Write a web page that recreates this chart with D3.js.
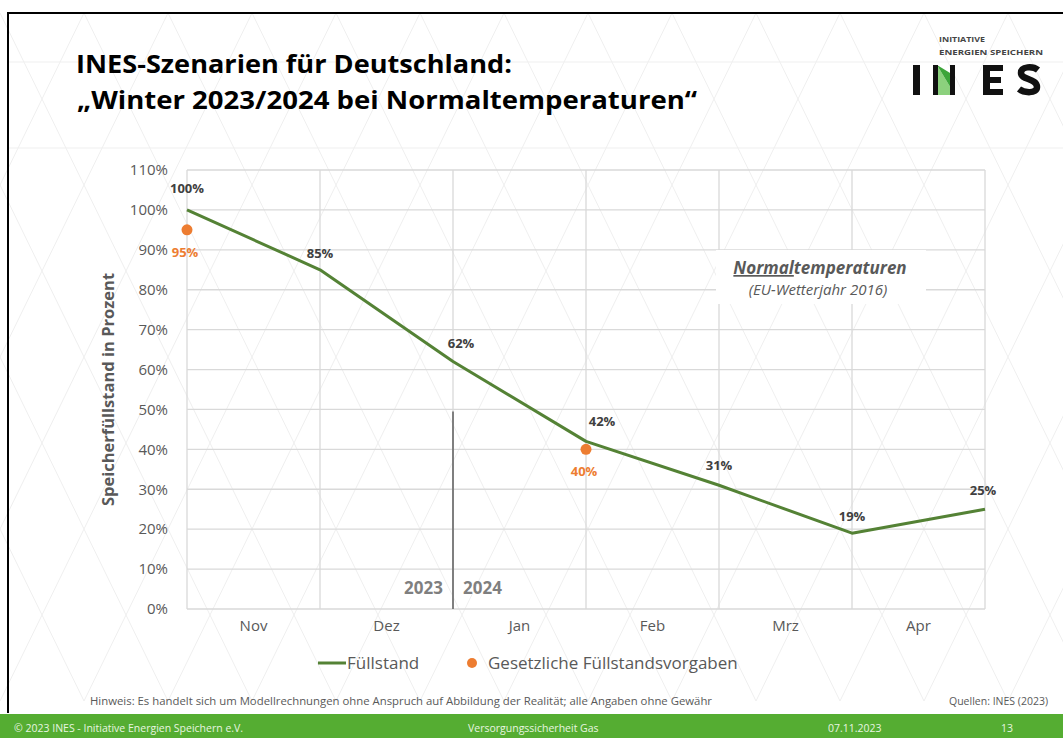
<!DOCTYPE html>
<html>
<head>
<meta charset="utf-8">
<script src="https://cdn.jsdelivr.net/npm/d3@7"></script>
<style>
  body { margin: 0; background: #fff; }
  svg { display: block; }
</style>
</head>
<body>
<script>
const W = 1063
const H = 738

const months = ["Nov", "Dez", "Jan", "Feb", "Mrz", "Apr"]
const fillPos = [0, 1, 2, 3, 4, 5, 6]          // month boundaries (1st of each month)
const fillValues = [100, 85, 62, 42, 31, 19, 25]
const targetPos = [0, 3]
const targetValues = [95, 40]
const yTicks = [0, 10, 20, 30, 40, 50, 60, 70, 80, 90, 100, 110]

const green = "#548235"
const orange = "#ed7d31"
const grey = "#595959"
const font = "'Open Sans', 'Liberation Sans', sans-serif"

const svg = d3.select("body").append("svg")
    .attr("width", W)
    .attr("height", H)
    .style("font-family", font)

// faint triangle pattern in the slide background
const bg = svg.append("g").attr("stroke", "#efefef").attr("stroke-width", 1)
const triW = 84, triH = 86
for (let k = -12; k < 24; k++) {
  const x0 = k * triW
  bg.append("line").attr("x1", x0).attr("y1", 13).attr("x2", x0 + 4 * triW).attr("y2", 13 + 8 * triH)
  bg.append("line").attr("x1", x0).attr("y1", 13).attr("x2", x0 - 4 * triW).attr("y2", 13 + 8 * triH)
}
;[62, 148].forEach(function (y) {
  bg.append("line").attr("x1", 8).attr("x2", W).attr("y1", y).attr("y2", y)
})

// slide frame
svg.append("path")
    .attr("d", `M${W},13 H8 V713`)
    .attr("fill", "none")
    .attr("stroke", "#000")
    .attr("stroke-width", 2)

// title
const title = svg.append("g").attr("font-weight", "bold").attr("fill", "#000").attr("font-size", 25)
title.append("text").attr("x", 76).attr("y", 73)
    .attr("textLength", 436).attr("lengthAdjust", "spacingAndGlyphs")
    .text("INES-Szenarien für Deutschland:")
title.append("text").attr("x", 77).attr("y", 109)
    .attr("textLength", 620).attr("lengthAdjust", "spacingAndGlyphs")
    .text("„Winter 2023/2024 bei Normaltemperaturen“")

// logo (the big letters are drawn as shapes)
const logo = svg.append("g")
logo.append("text").attr("x", 939).attr("y", 42).attr("font-size", 7.5).attr("font-weight", "bold").attr("fill", "#444")
    .attr("textLength", 46).attr("lengthAdjust", "spacingAndGlyphs").text("INITIATIVE")
logo.append("text").attr("x", 939).attr("y", 55).attr("font-size", 7.5).attr("font-weight", "bold").attr("fill", "#444")
    .attr("textLength", 104).attr("lengthAdjust", "spacingAndGlyphs").text("ENERGIEN SPEICHERN")
logo.append("rect").attr("x", 913).attr("y", 65).attr("width", 7).attr("height", 30).attr("fill", "#111")
logo.append("path").attr("d", "M937,65 L955,95 L938,95 Z").attr("fill", "#8cd17d")
logo.append("path").attr("d", "M937,65 L955,95 L955,76 Z").attr("fill", "#3da53a")
logo.append("rect").attr("x", 933).attr("y", 65).attr("width", 5).attr("height", 30).attr("fill", "#111")
logo.append("rect").attr("x", 950).attr("y", 65).attr("width", 5).attr("height", 30).attr("fill", "#111")
const E = logo.append("g").attr("fill", "#111")
E.append("rect").attr("x", 983).attr("y", 65).attr("width", 7).attr("height", 30)
E.append("rect").attr("x", 983).attr("y", 65).attr("width", 20).attr("height", 6)
E.append("rect").attr("x", 983).attr("y", 77).attr("width", 18).attr("height", 6)
E.append("rect").attr("x", 983).attr("y", 89).attr("width", 20).attr("height", 6)
logo.append("path")
    .attr("d", "M1038,70 C1033,66 1021,66 1021,73 C1021,80 1037,78 1037,87 C1037,94 1024,93 1019,89")
    .attr("fill", "none").attr("stroke", "#111").attr("stroke-width", 6.5)

// chart
const x = d3.scaleLinear().domain([0, 6]).range([187, 985])
const xBand = d3.scaleBand().domain(months).range([187, 985])
const y = d3.scaleLinear().domain([0, 110]).range([609, 170])

const grid = svg.append("g").attr("stroke", "#d9d9d9").attr("stroke-width", 1.3)
grid.selectAll(".hg").data(yTicks).enter().append("line")
    .attr("x1", x(0)).attr("x2", x(6))
    .attr("y1", function (d) { return y(d) }).attr("y2", function (d) { return y(d) })
grid.selectAll(".vg").data(fillPos).enter().append("line")
    .attr("x1", function (d) { return x(d) }).attr("x2", function (d) { return x(d) })
    .attr("y1", y(110)).attr("y2", y(0))

// y axis labels
const yAxis = svg.append("g")
    .attr("transform", `translate(${x(0)},0)`)
    .call(d3.axisLeft(y).tickValues(yTicks).tickSize(0).tickPadding(19).tickFormat(function (d) { return d + "%" }))
yAxis.select(".domain").remove()
yAxis.selectAll("text").attr("fill", grey).attr("font-size", 15).attr("font-family", font)

// x axis labels
const xAxis = svg.append("g")
    .attr("transform", `translate(0,${y(0)})`)
    .call(d3.axisBottom(xBand).tickSize(0).tickPadding(11))
xAxis.select(".domain").remove()
xAxis.selectAll("text").attr("fill", grey).attr("font-size", 15).attr("font-family", font)

svg.append("text")
    .attr("transform", `translate(114,${y(55)}) rotate(-90)`)
    .attr("text-anchor", "middle")
    .attr("font-size", 16.5).attr("font-weight", "bold").attr("fill", grey)
    .text("Speicherfüllstand in Prozent")

// year divider
svg.append("line")
    .attr("x1", x(2)).attr("x2", x(2))
    .attr("y1", y(49.5)).attr("y2", y(0))
    .attr("stroke", "#7f7f7f").attr("stroke-width", 2)
svg.append("text").attr("x", x(2) - 10).attr("y", 594).attr("text-anchor", "end")
    .attr("font-size", 17).attr("font-weight", "bold").attr("fill", "#7f7f7f").text("2023")
svg.append("text").attr("x", x(2) + 10).attr("y", 594)
    .attr("font-size", 17).attr("font-weight", "bold").attr("fill", "#7f7f7f").text("2024")

// annotation box
svg.append("rect").attr("x", 716).attr("y", 250).attr("width", 210).attr("height", 54).attr("fill", "#fff")
const ann = svg.append("text").attr("x", 820).attr("y", 274).attr("text-anchor", "middle")
    .attr("font-size", 17).attr("font-weight", "bold").attr("font-style", "italic").attr("fill", grey)
ann.append("tspan").attr("text-decoration", "underline").text("Normal")
ann.append("tspan").text("temperaturen")
svg.append("text").attr("x", 818).attr("y", 295).attr("text-anchor", "middle")
    .attr("font-size", 15).attr("font-style", "italic").attr("fill", grey)
    .text("(EU-Wetterjahr 2016)")

// Füllstand line
const fill = fillPos.map(function (p, i) { return {p: p, v: fillValues[i]} })
svg.append("path")
    .datum(fill)
    .attr("fill", "none")
    .attr("stroke", green)
    .attr("stroke-width", 3)
    .attr("stroke-linejoin", "round")
    .attr("d", d3.line().x(function (d) { return x(d.p) }).y(function (d) { return y(d.v) }))

// data labels for the line (offsets)
const labelDx = [0, 0, 8, 16, 0, 0, -2]
const labelDy = [-17, -12, -14, -15, -15, -12, -14]
svg.append("g").selectAll("text").data(fill).enter().append("text")
    .attr("x", function (d, i) { return x(d.p) + labelDx[i] })
    .attr("y", function (d, i) { return y(d.v) + labelDy[i] })
    .attr("text-anchor", "middle")
    .attr("font-size", 13).attr("font-weight", "bold").attr("fill", "#404040")
    .text(function (d) { return d.v + "%" })

// legal targets
const targets = targetPos.map(function (p, i) { return {p: p, v: targetValues[i]} })
svg.append("g").selectAll("circle").data(targets).enter().append("circle")
    .attr("cx", function (d) { return x(d.p) }).attr("cy", function (d) { return y(d.v) })
    .attr("r", 5.5).attr("fill", orange)
svg.append("g").selectAll("text").data(targets).enter().append("text")
    .attr("x", function (d) { return x(d.p) - 2 }).attr("y", function (d) { return y(d.v) + 27 })
    .attr("text-anchor", "middle")
    .attr("font-size", 13).attr("font-weight", "bold").attr("fill", orange)
    .text(function (d) { return d.v + "%" })

// legend
const legend = svg.append("g")
legend.append("line").attr("x1", 318).attr("x2", 346).attr("y1", 663).attr("y2", 663)
    .attr("stroke", green).attr("stroke-width", 3)
legend.append("text").attr("x", 347).attr("y", 669).attr("font-size", 17).attr("fill", grey).text("Füllstand")
legend.append("circle").attr("cx", 472).attr("cy", 663).attr("r", 5).attr("fill", orange)
legend.append("text").attr("x", 488).attr("y", 669).attr("font-size", 17).attr("fill", grey).text("Gesetzliche Füllstandsvorgaben")

// notes
svg.append("text").attr("x", 90).attr("y", 705).attr("font-size", 10.5).attr("fill", grey)
    .attr("textLength", 622).attr("lengthAdjust", "spacingAndGlyphs")
    .text("Hinweis: Es handelt sich um Modellrechnungen ohne Anspruch auf Abbildung der Realität; alle Angaben ohne Gewähr")
svg.append("text").attr("x", 1048).attr("y", 705).attr("font-size", 10.5).attr("fill", grey).attr("text-anchor", "end")
    .text("Quellen: INES (2023)")

// footer bar
svg.append("rect").attr("x", 0).attr("y", 714).attr("width", W).attr("height", H - 714).attr("fill", "#55ad32")
const foot = svg.append("g").attr("fill", "#e8f5e0").attr("font-size", 10.5)
foot.append("text").attr("x", 14).attr("y", 732).text("© 2023 INES - Initiative Energien Speichern e.V.")
foot.append("text").attr("x", 468).attr("y", 732).text("Versorgungssicherheit Gas")
foot.append("text").attr("x", 828).attr("y", 732).text("07.11.2023")
foot.append("text").attr("x", 1001).attr("y", 732).text("13")
</script>
</body>
</html>
